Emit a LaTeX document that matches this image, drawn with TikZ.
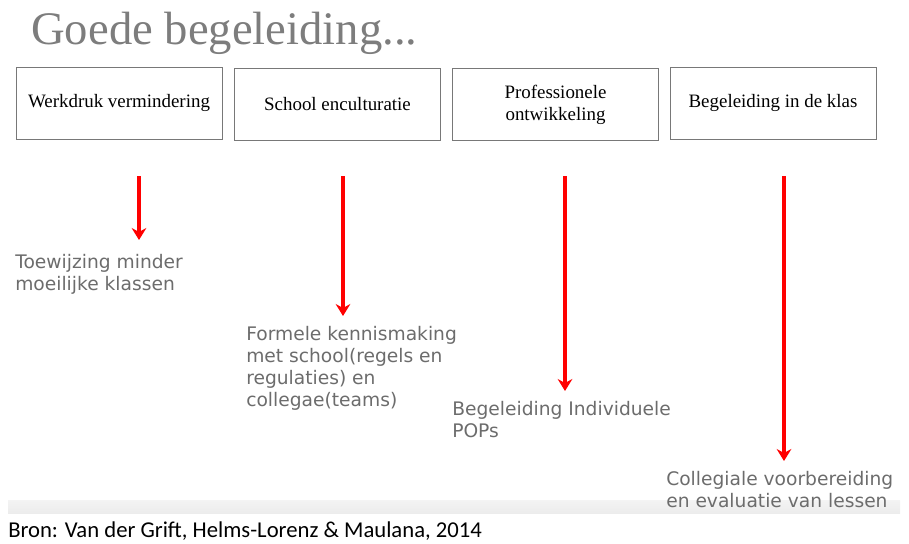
\documentclass[tikz,border=0pt]{standalone}
\usepackage{fontspec}
\setmainfont{Liberation Serif}
\newfontfamily\verdanafont{DejaVu Sans}
\newfontfamily\calibrifont{Carlito}
\usetikzlibrary{arrows.meta}
\definecolor{titlegray}{RGB}{125,125,125}
\definecolor{notegray}{RGB}{108,108,108}
\definecolor{boxline}{RGB}{120,120,120}
\definecolor{stripgray}{RGB}{236,236,236}

\begin{document}
\begin{tikzpicture}[x=0.75pt,y=0.75pt,yscale=-1,xscale=1,
  kop/.style={draw=boxline,line width=0.6pt,minimum width=154.5pt,minimum height=54pt,inner sep=0.75pt,align=center,font=\fontsize{14.2}{16.5}\selectfont},
  noot/.style={anchor=north west,inner sep=0pt,align=left,text=notegray,font=\verdanafont\fontsize{14}{16.5}\selectfont},
  pijl/.style={draw=red,line width=2.3pt,-{Stealth[length=9pt,width=11pt,inset=3pt]}}]
%set diagram left start at 0, and has height of 543
\path (0,0) rectangle (909,543);

%Shape: Strip [id:strip]
\shade [top color=stripgray!60,bottom color=stripgray] (8,500) rectangle (900,513);

% Text Node
\node (titel) at (31,44) [anchor=base west,inner sep=0pt,text=titlegray] {\fontsize{35}{40}\selectfont Goede begeleiding...};

%Shape: Rectangle [id:kop1]
\node (werkdruk) at (119,103) [kop] {Werkdruk vermindering};
%Shape: Rectangle [id:kop2]
\node (school) at (337.5,104.5) [kop] {School enculturatie};
%Shape: Rectangle [id:kop3]
\node (prof) at (555.5,104.5) [kop] {Professionele\\ontwikkeling};
%Shape: Rectangle [id:kop4]
\node (klas) at (773,103) [kop] {Begeleiding in de klas};

%Straight Lines [id:pijlen]
\coordinate (p1a) at (139,176);
\coordinate (p1b) at (139,240);
\coordinate (p2a) at (343,176);
\coordinate (p2b) at (343,316);
\coordinate (p3a) at (565,176);
\coordinate (p3b) at (565,391);
\coordinate (p4a) at (784,176);
\coordinate (p4b) at (784,461);
\draw [pijl] (p1a) -- (p1b);
\draw [pijl] (p2a) -- (p2b);
\draw [pijl] (p3a) -- (p3b);
\draw [pijl] (p4a) -- (p4b);

% Text Node
\node (toewijzing) at (15,254) [noot] {Toewijzing minder\\moeilijke klassen};
% Text Node
\node (formeel) at (246,326) [noot] {Formele kennismaking\\met school(regels en\\regulaties) en\\collegae(teams)};
% Text Node
\node (pops) at (452,401) [noot] {Begeleiding Individuele\\POPs};
% Text Node
\node (collegiaal) at (666,471) [noot] {Collegiale voorbereiding\\en evaluatie van lessen};

% Text Node
\node (bron) at (8,537) [anchor=base west,inner sep=0pt] {\calibrifont\fontsize{17}{20}\selectfont Bron: Van der Grift, Helms-Lorenz \& Maulana, 2014};

\end{tikzpicture}
\end{document}
